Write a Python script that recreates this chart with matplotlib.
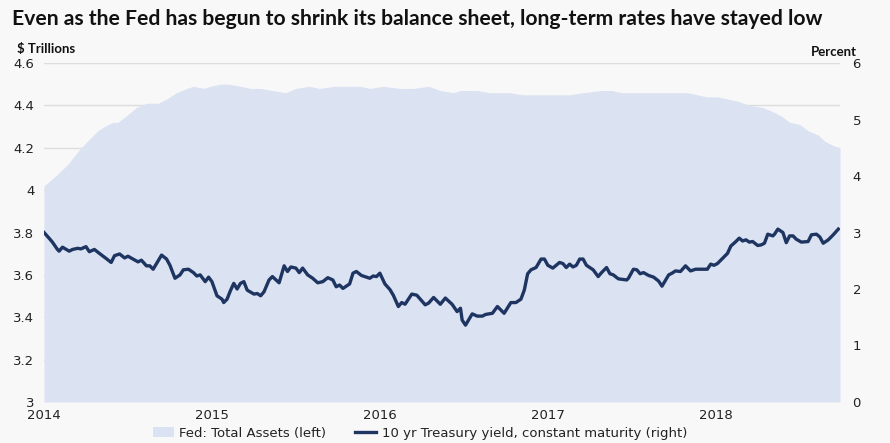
import matplotlib.pyplot as plt

# Fed total assets ($ trillions)
asset_t = [2014.00, 2014.06, 2014.10, 2014.14, 2014.17, 2014.21, 2014.27, 2014.32, 2014.36,
           2014.41, 2014.44, 2014.49, 2014.55, 2014.61, 2014.68, 2014.73, 2014.79, 2014.85,
           2014.89, 2014.95, 2014.99, 2015.05, 2015.10, 2015.17, 2015.23, 2015.29, 2015.36,
           2015.44, 2015.50, 2015.58, 2015.64, 2015.73, 2015.83, 2015.88, 2015.94, 2016.02,
           2016.12, 2016.20, 2016.29, 2016.36, 2016.44, 2016.48, 2016.58, 2016.65, 2016.77,
           2016.85, 2016.91, 2016.97, 2017.05, 2017.13, 2017.21, 2017.32, 2017.38, 2017.44,
           2017.53, 2017.61, 2017.69, 2017.83, 2017.89, 2017.95, 2018.01, 2018.07, 2018.13,
           2018.20, 2018.28, 2018.34, 2018.39, 2018.44, 2018.50, 2018.55, 2018.61, 2018.65,
           2018.70, 2018.74]
assets = [4.02, 4.06, 4.09, 4.12, 4.15, 4.19, 4.24, 4.28, 4.30,
          4.32, 4.32, 4.35, 4.39, 4.41, 4.41, 4.43, 4.46, 4.48,
          4.49, 4.48, 4.49, 4.50, 4.50, 4.49, 4.48, 4.48, 4.47,
          4.46, 4.48, 4.49, 4.48, 4.49, 4.49, 4.49, 4.48, 4.49,
          4.48, 4.48, 4.49, 4.47, 4.46, 4.47, 4.47, 4.46, 4.46,
          4.45, 4.45, 4.45, 4.45, 4.45, 4.46, 4.47, 4.47, 4.46,
          4.46, 4.46, 4.46, 4.46, 4.45, 4.44, 4.44, 4.43, 4.42,
          4.40, 4.39, 4.37, 4.35, 4.32, 4.31, 4.28, 4.26, 4.23,
          4.21, 4.20]

# 10 yr Treasury yield (percent)
yield_t = [2014.00, 2014.03, 2014.05, 2014.08, 2014.09, 2014.11, 2014.15, 2014.17, 2014.20,
           2014.22, 2014.25, 2014.27, 2014.30, 2014.33, 2014.37, 2014.40, 2014.42, 2014.45,
           2014.48, 2014.50, 2014.53, 2014.56, 2014.58, 2014.61, 2014.63, 2014.65, 2014.67,
           2014.70, 2014.73, 2014.75, 2014.78, 2014.81, 2014.83, 2014.86, 2014.89, 2014.91,
           2014.93, 2014.96, 2014.98, 2015.00, 2015.03, 2015.06, 2015.07, 2015.09, 2015.11,
           2015.13, 2015.15, 2015.17, 2015.19, 2015.21, 2015.25, 2015.27, 2015.29, 2015.31,
           2015.34, 2015.36, 2015.40, 2015.43, 2015.45, 2015.47, 2015.50, 2015.52, 2015.54,
           2015.57, 2015.60, 2015.63, 2015.66, 2015.69, 2015.72, 2015.74, 2015.76, 2015.78,
           2015.82, 2015.84, 2015.86, 2015.89, 2015.94, 2015.96, 2015.98, 2016.00, 2016.03,
           2016.06, 2016.08, 2016.11, 2016.13, 2016.15, 2016.19, 2016.22, 2016.27, 2016.29,
           2016.32, 2016.36, 2016.39, 2016.43, 2016.46, 2016.48, 2016.49, 2016.51, 2016.55,
           2016.58, 2016.61, 2016.63, 2016.67, 2016.70, 2016.74, 2016.78, 2016.81, 2016.84,
           2016.86, 2016.88, 2016.90, 2016.93, 2016.96, 2016.98, 2017.00, 2017.03, 2017.07,
           2017.09, 2017.11, 2017.13, 2017.15, 2017.17, 2017.19, 2017.21, 2017.23, 2017.25,
           2017.27, 2017.30, 2017.32, 2017.35, 2017.37, 2017.39, 2017.42, 2017.47, 2017.48,
           2017.51, 2017.53, 2017.55, 2017.57, 2017.60, 2017.63, 2017.66, 2017.68, 2017.72,
           2017.74, 2017.76, 2017.79, 2017.82, 2017.85, 2017.88, 2017.89, 2017.93, 2017.95,
           2017.97, 2017.99, 2018.01, 2018.04, 2018.07, 2018.09, 2018.12, 2018.14, 2018.16,
           2018.18, 2018.20, 2018.22, 2018.25, 2018.27, 2018.29, 2018.31, 2018.34, 2018.35,
           2018.37, 2018.40, 2018.42, 2018.44, 2018.46, 2018.48, 2018.51, 2018.55, 2018.57,
           2018.60, 2018.62, 2018.64, 2018.67, 2018.70, 2018.73]
yields = [3.00, 2.90, 2.83, 2.70, 2.67, 2.74, 2.67, 2.70, 2.72,
          2.71, 2.75, 2.66, 2.70, 2.63, 2.54, 2.47, 2.59, 2.62,
          2.55, 2.58, 2.53, 2.48, 2.51, 2.41, 2.41, 2.35, 2.45,
          2.60, 2.53, 2.42, 2.19, 2.25, 2.34, 2.35, 2.29, 2.23,
          2.25, 2.13, 2.21, 2.13, 1.88, 1.82, 1.76, 1.82, 1.97,
          2.10, 2.00, 2.10, 2.13, 1.98, 1.91, 1.92, 1.88, 1.95,
          2.16, 2.22, 2.11, 2.41, 2.31, 2.39, 2.37, 2.29, 2.37,
          2.25, 2.19, 2.11, 2.13, 2.20, 2.16, 2.04, 2.07, 2.01,
          2.09, 2.28, 2.31, 2.24, 2.19, 2.23, 2.22, 2.28, 2.09,
          1.99, 1.89, 1.69, 1.76, 1.73, 1.91, 1.89, 1.72, 1.75,
          1.85, 1.73, 1.84, 1.73, 1.60, 1.66, 1.45, 1.36, 1.56,
          1.52, 1.52, 1.55, 1.57, 1.69, 1.57, 1.76, 1.76, 1.82,
          1.98, 2.27, 2.34, 2.38, 2.53, 2.53, 2.42, 2.37, 2.47,
          2.45, 2.38, 2.44, 2.39, 2.42, 2.53, 2.53, 2.42, 2.38,
          2.34, 2.22, 2.29, 2.38, 2.27, 2.25, 2.18, 2.16, 2.19,
          2.35, 2.34, 2.27, 2.29, 2.24, 2.21, 2.14, 2.05, 2.25,
          2.28, 2.32, 2.31, 2.41, 2.32, 2.35, 2.35, 2.35, 2.35,
          2.44, 2.42, 2.45, 2.54, 2.63, 2.76, 2.84, 2.90, 2.85,
          2.87, 2.83, 2.84, 2.77, 2.78, 2.81, 2.97, 2.94, 2.97,
          3.06, 3.00, 2.82, 2.94, 2.94, 2.88, 2.83, 2.84, 2.96,
          2.97, 2.92, 2.81, 2.87, 2.96, 3.06]

years = [2014, 2015, 2016, 2017, 2018]
left_ticks = [3, 3.2, 3.4, 3.6, 3.8, 4, 4.2, 4.4, 4.6]
left_labels = ["3", "3.2", "3.4", "3.6", "3.8", "4", "4.2", "4.4", "4.6"]
right_ticks = [0, 1, 2, 3, 4, 5, 6]

BG = "#f8f8f8"
AREA = "#dbe2f2"
NAVY = "#1e3461"
TEXT = "#222222"
NARROW = ["Liberation Sans Narrow", "DejaVu Sans"]

fig = plt.figure(figsize=(8.9, 4.43), dpi=100, facecolor=BG)
ax = fig.add_axes([44 / 890, 1 - 402 / 443, 796 / 890, 339 / 443])
ax.set_facecolor(BG)
ax2 = ax.twinx()

ax.fill_between(asset_t, assets, 3, color=AREA, lw=0, zorder=2,
                label="Fed: Total Assets (left)")
ax2.plot(yield_t, yields, color=NAVY, lw=2.4, solid_joinstyle="round",
         label="10 yr Treasury yield, constant maturity (right)")

ax.set_xlim(2014, 2018.74)
ax.set_ylim(3, 4.6)
ax2.set_ylim(0, 6)
ax.set_yticks(left_ticks, left_labels)
ax2.set_yticks(right_ticks)
ax.set_xticks(years, [str(y) for y in years])

ax.grid(axis="y", color="#dddddd", lw=1, zorder=0)
ax.set_axisbelow(True)
for a in (ax, ax2):
    for s in a.spines.values():
        s.set_visible(False)
    a.tick_params(length=0, colors=TEXT, labelsize=9.5)
ax.tick_params(axis="x", pad=5)
for lbl in ax.get_xticklabels():
    lbl.set_family(NARROW)
    lbl.set_fontsize(9.5)
ax.tick_params(axis="y", pad=7)
ax2.tick_params(axis="y", pad=9)

fig.text(12 / 890, 1 - 19 / 443, "Even as the Fed has begun to shrink its balance sheet, "
         "long-term rates have stayed low", fontsize=15.2, fontweight="bold",
         family="Lato", va="center", ha="left", color="#111111")
fig.text(17 / 890, 1 - 49 / 443, "$ Trillions", fontsize=9.5, fontweight="bold",
         family="Lato", va="center", ha="left", color="#111111")
fig.text(857 / 890, 1 - 52 / 443, "Percent", fontsize=9.5, fontweight="bold",
         family="Lato", va="center", ha="right", color="#111111")

h1, l1 = ax.get_legend_handles_labels()
h2, l2 = ax2.get_legend_handles_labels()
fig.legend(h1 + h2, l1 + l2, loc="center", bbox_to_anchor=(420 / 890, 1 - 433 / 443),
           ncol=2, frameon=False, prop={"family": NARROW, "size": 9.5},
           handlelength=1.6, handletextpad=0.4, columnspacing=2.2, labelcolor=TEXT)

fig.savefig("out.png", dpi=100, facecolor=BG)
